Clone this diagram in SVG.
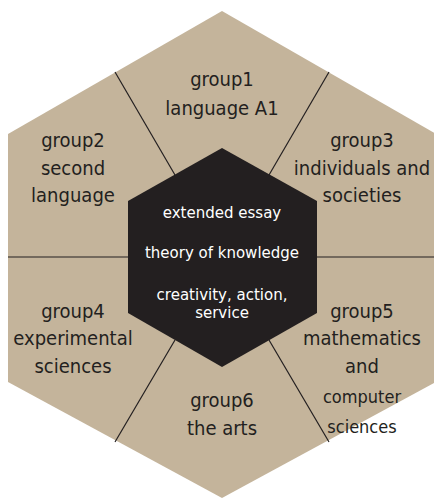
<svg xmlns="http://www.w3.org/2000/svg" width="434" height="500" viewBox="0 0 434 500">
<style>
.g{font-family:"DejaVu Sans Condensed","DejaVu Sans",sans-serif;font-size:20px;fill:#231f20;text-anchor:middle}
.s{font-size:18px}
.c{font-family:"DejaVu Sans","Noto Sans",sans-serif;font-size:15px;fill:#ffffff;text-anchor:middle}
.ln{stroke:#231f20;stroke-width:1.2;fill:none}
</style>
<rect width="434" height="500" fill="#ffffff"/>
<polygon id="outer" points="222,11 436,134 436,382 222,498 8,382 8,134" fill="#c4b49b"/>
<g id="connectors">
<line class="ln" x1="115" y1="72" x2="175" y2="175"/>
<line class="ln" x1="329" y1="72" x2="269" y2="175"/>
<line class="ln" x1="8" y1="257" x2="128" y2="257"/>
<line class="ln" x1="317" y1="257" x2="436" y2="257"/>
<line class="ln" x1="115" y1="442" x2="175" y2="340"/>
<line class="ln" x1="329" y1="442" x2="269" y2="340"/>
</g>
<g id="group1"><text class="g" x="222" y="86">group1</text><text class="g" x="222" y="115">language A1</text></g>
<g id="group2"><text class="g" x="73" y="147">group2</text><text class="g" x="73" y="175">second</text><text class="g" x="73" y="202">language</text></g>
<g id="group3"><text class="g" x="362" y="147">group3</text><text class="g" x="362" y="175">individuals and</text><text class="g" x="362" y="202">societies</text></g>
<g id="group4"><text class="g" x="73" y="318">group4</text><text class="g" x="73" y="345">experimental</text><text class="g" x="73" y="373">sciences</text></g>
<g id="group5"><text class="g" x="362" y="318">group5</text><text class="g" x="362" y="345">mathematics</text><text class="g" x="362" y="373">and</text><text class="g s" x="362" y="403">computer</text><text class="g s" x="362" y="433">sciences</text></g>
<g id="group6"><text class="g" x="222" y="407">group6</text><text class="g" x="222" y="435">the arts</text></g>
<g id="core">
<polygon points="222,148 317,201 317,313 222,367 128,313 128,201" fill="#231f20"/>
<text class="c" x="222" y="218">extended essay</text>
<text class="c" x="222" y="258">theory of knowledge</text>
<text class="c" x="222" y="300">creativity, action,</text>
<text class="c" x="222" y="318">service</text>
</g>
</svg>
